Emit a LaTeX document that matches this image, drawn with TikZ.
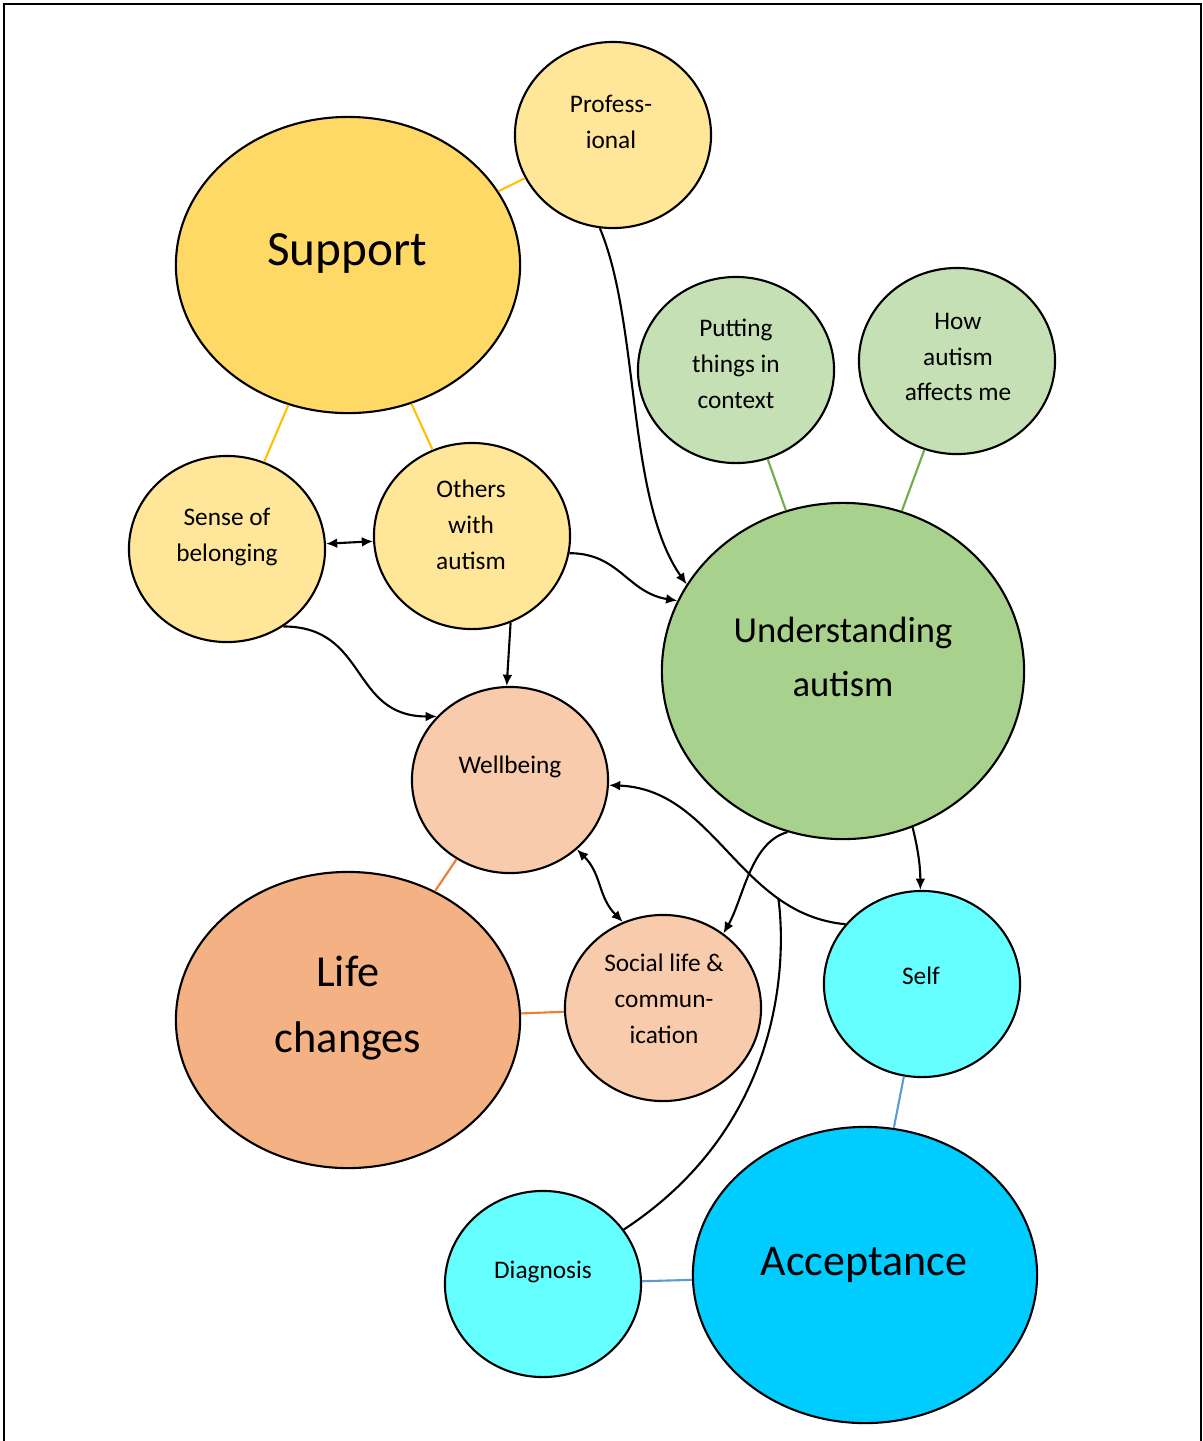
\documentclass[tikz,border=0pt]{standalone}
\usepackage{fontspec}
\setmainfont{Carlito}
\usetikzlibrary{shapes.geometric,arrows.meta}
\definecolor{supY}{HTML}{FFD966}
\definecolor{lightY}{HTML}{FFE699}
\definecolor{undG}{HTML}{A9D18E}
\definecolor{lightG}{HTML}{C5E0B4}
\definecolor{lifeO}{HTML}{F4B183}
\definecolor{lightO}{HTML}{F8CBAD}
\definecolor{accB}{HTML}{00CCFF}
\definecolor{lightB}{HTML}{66FFFF}
\definecolor{lnY}{HTML}{FFC000}
\definecolor{lnG}{HTML}{70AD47}
\definecolor{lnO}{HTML}{ED7D31}
\definecolor{lnB}{HTML}{5B9BD5}
\tikzset{every picture/.style={>={Latex[length=3.2pt,width=2.8pt]},line width=0.6pt}}
\tikzset{
  bub/.style={ellipse,draw,inner sep=0pt,minimum width=1.96cm,minimum height=1.86cm},
  bigbub/.style={bub,minimum width=3.44cm,minimum height=2.96cm},
  txt/.style={align=center,inner sep=0pt,font=\fontsize{7.2}{10.2}\selectfont},
  bigtxt/.style 2 args={align=center,inner sep=0pt,font=\fontsize{#1}{#2}\selectfont},
  link/.style={draw=#1,line width=0.6pt}
}

\begin{document}
\begin{tikzpicture}[x=0.01cm,y=-0.01cm]
  \useasboundingbox (0,0) rectangle (1203,1441);
  \draw[line width=0.7pt] (4,1441) -- (4,4) -- (1201,4) -- (1201,1441);

  % bubbles
  \node[bigbub,fill=supY]   (sup)  at (348,265) {};
  \node[bub,fill=lightY]    (prof) at (613,135) {};
  \node[bub,fill=lightG]    (ctx)  at (736,370) {};
  \node[bub,fill=lightG]    (how)  at (957,361) {};
  \node[bub,fill=lightY]    (bel)  at (227,549) {};
  \node[bub,fill=lightY]    (oth)  at (472,536) {};
  \node[bub,fill=undG,minimum width=3.62cm,minimum height=3.36cm] (und) at (843,671) {};
  \node[bub,fill=lightO]    (wb)   at (510,780) {};
  \node[bigbub,fill=lifeO]  (life) at (348,1020) {};
  \node[bub,fill=lightO]    (soc)  at (663,1008) {};
  \node[bub,fill=lightB]    (self) at (922,984) {};
  \node[bigbub,fill=accB]   (acc)  at (865,1275) {};
  \node[bub,fill=lightB]    (diag) at (543,1284) {};

  % texts
  \node[bigtxt={14}{20}]     (sup-t)  at (347,253)  {Support};
  \node[txt]                 (prof-t) at (611,122)  {Profess-\\ional};
  \node[txt]                 (ctx-t)  at (736,364)  {Putting\\things in\\context};
  \node[txt]                 (how-t)  at (958,357)  {How\\autism\\affects me};
  \node[txt]                 (bel-t)  at (227,537)  {Sense of\\belonging};
  \node[txt]                 (oth-t)  at (471,525)  {Others\\with\\autism};
  \node[bigtxt={10.4}{15.4}] (und-t)  at (843,657)  {Understanding\\autism};
  \node[txt]                 (wb-t)   at (510,767)  {Wellbeing};
  \node[bigtxt={12.6}{19}]   (life-t) at (348,1008) {Life\\changes};
  \node[txt]                 (soc-t)  at (664,999)  {Social life \&\\commun-\\ication};
  \node[txt]                 (self-t) at (921,976)  {Self};
  \node[txt]                 (diag-t) at (543,1272) {Diagnosis};
  \node[bigtxt={12.5}{18}]   (acc-t)  at (864,1265) {Acceptance};

  % theme links
  \draw[link=lnY] (sup) -- (prof);
  \draw[link=lnY] (sup) -- (bel);
  \draw[link=lnY] (sup) -- (oth);
  \draw[link=lnG] (ctx) -- (und);
  \draw[link=lnG] (how) -- (und);
  \draw[link=lnO] (wb) -- (life);
  \draw[link=lnO] (life) -- (soc);
  \draw[link=lnB] (self) -- (acc);
  \draw[link=lnB] (diag) -- (acc);

  % arrows
  \draw[<->] (bel) -- (oth);
  \draw[->] (prof.-98) .. controls +(40,95) and +(-60,-85) .. (und.151);
  \draw[->] (oth.-10) .. controls +(50,0) and +(-50,-8) .. (und.157);
  \draw[->] (bel.-54) .. controls +(85,0) and +(-87,0) .. (wb.139);
  \draw[->] (oth.-66) -- (wb.92);
  \draw[->] (und.-66) .. controls +(5,20) and +(0,-25) .. (self.91);
  \draw[->] (und.-109) .. controls +(-37,10) and +(20,-35) .. (soc.51);
  \draw[->] (self.142) .. controls +(-107,-10) and +(107,4) .. (wb.-3) coordinate[pos=0.25] (dj);
  \draw[<->] (wb.-46) .. controls +(25,25) and +(-25,-25) .. (soc.115);
  \draw (diag.34) .. controls +(165,-108) and +(7,52) .. (dj);
\end{tikzpicture}
\end{document}
